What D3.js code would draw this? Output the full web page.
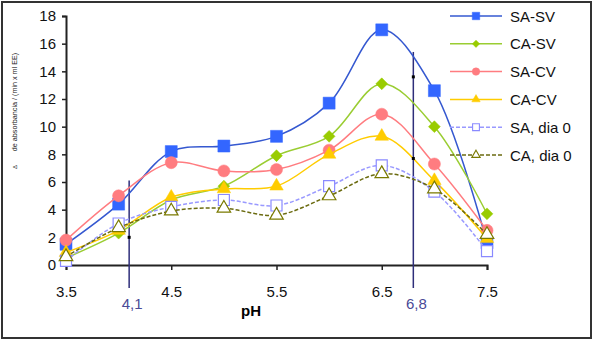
<!DOCTYPE html>
<html>
<head>
<meta charset="utf-8">
<script src="https://cdn.jsdelivr.net/npm/d3@7"></script>
<style>
  body { margin: 0; background: #fff; }
  text { font-family: Arial, "Liberation Sans", sans-serif; }
</style>
</head>
<body>
<svg id="chart" width="595" height="343"></svg>
<script>
// pH values sampled
const ph = [3.5, 4.0, 4.5, 5.0, 5.5, 6.0, 6.5, 7.0, 7.5];
const xTicks = [3.5, 4.5, 5.5, 6.5, 7.5];
const yTicks = [0, 2, 4, 6, 8, 10, 12, 14, 16, 18];

// activity per series
const saSV = [1.5, 4.4, 8.2, 8.6, 9.3, 11.7, 17.0, 12.6, 1.6];
const caSV = [0.5, 2.3, 4.7, 5.7, 7.9, 9.3, 13.1, 10.0, 3.7];
const saCV = [1.8, 5.0, 7.4, 6.8, 6.9, 8.3, 10.9, 7.3, 2.5];
const caCV = [0.9, 2.5, 4.9, 5.5, 5.7, 8.0, 9.3, 6.1, 1.9];
const saD0 = [0.3, 3.0, 4.2, 4.7, 4.3, 5.7, 7.2, 5.3, 1.0];
const caD0 = [0.6, 2.7, 3.9, 4.1, 3.6, 5.0, 6.6, 5.5, 2.2];

// optimum pH guides and the points marked on them
const guides = [{ph: 4.1, top: 6.1, label: '4,1'}, {ph: 6.8, top: 15.4, label: '6,8'}];
const guideMarks = [{ph: 4.1, v: 2.0}, {ph: 6.8, v: 13.6}, {ph: 6.8, v: 7.7}];

const series = [
  {name: 'SA-SV', values: saSV, line: '#3558d0', fill: '#3366ff', stroke: '#3366ff', shape: 'square', size: 12, dash: null},
  {name: 'CA-SV', values: caSV, line: '#9acd32', fill: '#99cc00', stroke: '#99cc00', shape: 'diamond', size: 12, dash: null},
  {name: 'SA-CV', values: saCV, line: '#ff7c80', fill: '#ff7c80', stroke: '#ff7c80', shape: 'circle', size: 12, dash: null},
  {name: 'CA-CV', values: caCV, line: '#ffcc00', fill: '#ffcc00', stroke: '#ffcc00', shape: 'triangle', size: 12, dash: null},
  {name: 'SA, dia 0', values: saD0, line: '#9999ff', fill: '#fff', stroke: '#8a8aff', shape: 'square', size: 11, dash: '4,2'},
  {name: 'CA, dia 0', values: caD0, line: '#6b6b10', fill: '#fff', stroke: '#7a7a00', shape: 'triangle', size: 12, dash: '4,2'}
];

const svg = d3.select('#chart');

// outer frame
svg.append('rect')
  .attr('x', 2).attr('y', 2).attr('width', 589).attr('height', 336)
  .attr('fill', 'none').attr('stroke', '#333').attr('stroke-width', 2);

const x = d3.scaleLinear().domain([3.5, 7.5]).range([66, 487]);
const y = d3.scaleLinear().domain([0, 18]).range([265, 16]);

// axes
const xAxis = svg.append('g')
  .attr('transform', `translate(0,${y(0)})`)
  .call(d3.axisBottom(x).tickValues(xTicks).tickFormat(d3.format('.1f')).tickSizeOuter(0).tickSize(5).tickPadding(16));
const yAxis = svg.append('g')
  .attr('transform', `translate(${x(3.5)},0)`)
  .call(d3.axisLeft(y).tickValues(yTicks).tickSizeOuter(0).tickSize(4).tickPadding(6));
[xAxis, yAxis].forEach(a => {
  a.select('.domain').attr('stroke', '#222').attr('stroke-width', 2);
  a.selectAll('.tick line').attr('stroke', '#222').attr('stroke-width', 1.5);
  a.selectAll('.tick text').attr('fill', '#111').style('font-size', '15px');
});

// axis titles
svg.append('text')
  .attr('x', 251).attr('y', 316)
  .attr('text-anchor', 'middle')
  .style('font-size', '15px').style('font-weight', 'bold')
  .text('pH');
svg.append('text')
  .attr('transform', 'translate(17,102) rotate(-90)')
  .attr('text-anchor', 'middle')
  .style('font-size', '7.2px').attr('fill', '#222')
  .text('de absorbancia / (min x ml EE)');
svg.append('text')
  .attr('transform', 'translate(17,167) rotate(-90)')
  .attr('text-anchor', 'middle')
  .style('font-size', '6px').attr('fill', '#222')
  .text('Δ');

// guide lines at the optimum pH values
const gg = svg.append('g').attr('class', 'guides');
gg.selectAll('line').data(guides).enter().append('line')
  .attr('x1', d => x(d.ph)).attr('x2', d => x(d.ph))
  .attr('y1', d => y(d.top)).attr('y2', y(0) + 23)
  .attr('stroke', '#2e2e7a').attr('stroke-width', 1.5);
gg.selectAll('text').data(guides).enter().append('text')
  .attr('x', d => x(d.ph) + 3).attr('y', 309)
  .attr('text-anchor', 'middle')
  .attr('fill', '#4a4a96')
  .style('font-size', '15px')
  .text(d => d.label);

// marker shapes
const shapes = {
  square: d3.symbolSquare,
  diamond: d3.symbolDiamond2,
  circle: d3.symbolCircle,
  triangle: d3.symbolTriangle
};
function symbolPath(shape, size) {
  // d3 symbol size is an area; scale so 'size' is roughly the marker width
  const factor = {square: 1, diamond: 0.62, circle: 0.8, triangle: 0.55}[shape];
  return d3.symbol().type(shapes[shape]).size(size * size * factor)();
}

const line = d3.line()
  .x((d, i) => x(ph[i]))
  .y(d => y(d))
  .curve(d3.curveCatmullRom.alpha(0.5));

const plot = svg.append('g').attr('class', 'series');
series.forEach(s => {
  const g = plot.append('g');
  g.append('path')
    .attr('d', line(s.values))
    .attr('fill', 'none')
    .attr('stroke', s.line)
    .attr('stroke-width', 1.5)
    .attr('stroke-dasharray', s.dash);
  g.selectAll('path.pt').data(s.values).enter().append('path')
    .attr('class', 'pt')
    .attr('d', symbolPath(s.shape, s.size))
    .attr('transform', (d, i) => `translate(${x(ph[i])},${y(d)})`)
    .attr('fill', s.fill)
    .attr('stroke', s.stroke)
    .attr('stroke-width', s.dash ? 1.2 : 0.5);
});

// small black points on the guide lines
svg.append('g').selectAll('rect').data(guideMarks).enter().append('rect')
  .attr('x', d => x(d.ph) - 1.5).attr('y', d => y(d.v) - 1.5)
  .attr('width', 3).attr('height', 3)
  .attr('fill', '#000');

// legend
const legend = svg.append('g').attr('class', 'legend');
const rows = legend.selectAll('g').data(series).enter().append('g')
  .attr('transform', (d, i) => `translate(450,${16 + i * 27.8})`);
rows.append('line')
  .attr('x1', 0).attr('x2', 52).attr('y1', 0).attr('y2', 0)
  .attr('stroke', d => d.line)
  .attr('stroke-width', 1.5)
  .attr('stroke-dasharray', d => d.dash);
rows.append('path')
  .attr('d', d => symbolPath(d.shape, d.size * 0.62))
  .attr('transform', 'translate(26,0)')
  .attr('fill', d => d.fill)
  .attr('stroke', d => d.stroke)
  .attr('stroke-width', d => d.dash ? 1.1 : 0.5);
rows.append('text')
  .attr('x', 60).attr('y', 5.5)
  .style('font-size', '15px')
  .attr('fill', '#111')
  .text(d => d.name);
</script>
</body>
</html>
